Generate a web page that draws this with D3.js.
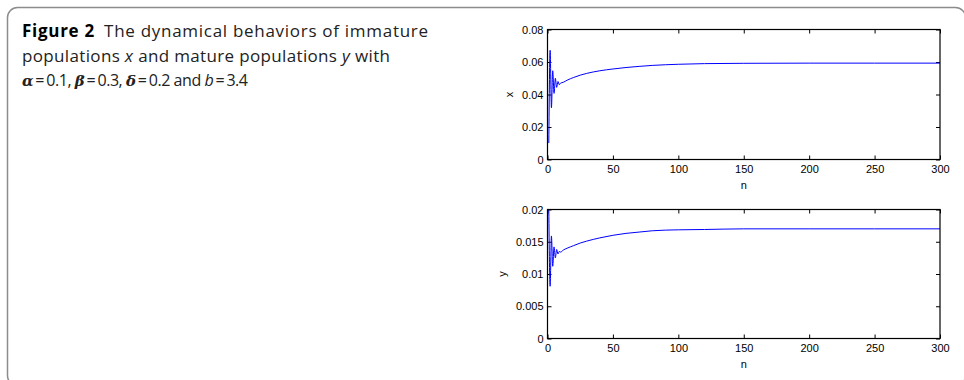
<!DOCTYPE html>
<html>
<head>
<meta charset="utf-8">
<script src="https://cdn.jsdelivr.net/npm/d3@7"></script>
<style>
  body { margin: 0; background: #fff; }
  .tick text { font-family: "Liberation Sans", Arial, sans-serif; font-size: 11px; fill: #000; }
  .cap { font-family: "Open Sans", sans-serif; font-size: 17px; fill: #222; }
</style>
</head>
<body>
<svg id="fig" width="964" height="380"></svg>
<script>
var nVals = [1, 2, 3, 4, 5, 6, 7, 8, 9, 10, 12, 15, 20, 25, 30, 40, 50, 60, 70, 80, 90, 100, 120, 150, 200, 250, 300];
// immature population x
var xVals = [0.0101, 0.0672, 0.0318, 0.0546, 0.0407, 0.0500, 0.0444, 0.0480, 0.0460, 0.0470, 0.0475, 0.0488, 0.0505, 0.0519, 0.0530, 0.0546, 0.0557, 0.0566, 0.0573, 0.0579, 0.0583, 0.0586, 0.0590, 0.0592, 0.0593, 0.0593, 0.0593];
// mature population y
var yVals = [0.0200, 0.0081, 0.0159, 0.0112, 0.0142, 0.0125, 0.0138, 0.0131, 0.0135, 0.0134, 0.0137, 0.0140, 0.0144, 0.0148, 0.0151, 0.0156, 0.0160, 0.0163, 0.0165, 0.0167, 0.0168, 0.01685, 0.0169, 0.0170, 0.0170, 0.0170, 0.0170];
var nTicks = [0, 50, 100, 150, 200, 250, 300];
var xTicks = [0, 0.02, 0.04, 0.06, 0.08];
var yTicks = [0, 0.005, 0.01, 0.015, 0.02];

var svg = d3.select("#fig");

// outer frame
svg.append("rect")
  .attr("x", 7.5).attr("y", 7.5)
  .attr("width", 958).attr("height", 378)
  .attr("rx", 10).attr("ry", 10)
  .attr("fill", "none").attr("stroke", "#8c8c8c").attr("stroke-width", 1.5);

// caption, one text per line so each can be fitted to its width
var l1 = svg.append("text").attr("class", "cap").attr("x", 22).attr("y", 37)
  .attr("textLength", 406).attr("lengthAdjust", "spacing");
l1.append("tspan").attr("font-weight", "bold").attr("fill", "#000").text("Figure 2");
l1.append("tspan").text("\u2002The dynamical behaviors of immature");
var l2 = svg.append("text").attr("class", "cap").attr("x", 22).attr("y", 61.5)
  .attr("textLength", 368).attr("lengthAdjust", "spacing");
l2.append("tspan").text("populations ");
l2.append("tspan").attr("font-style", "italic").text("x");
l2.append("tspan").text(" and mature populations ");
l2.append("tspan").attr("font-style", "italic").text("y");
l2.append("tspan").text(" with");
var l3 = svg.append("text").attr("class", "cap").attr("x", 22).attr("y", 86)
  .style("font-size", "16px")
  .attr("textLength", 226).attr("lengthAdjust", "spacing");
var greek = function(s) { l3.append("tspan").attr("font-style", "italic").attr("font-weight", "bold").attr("font-family", "DejaVu Serif").attr("font-size", 15).text(s); };
greek("\u03b1"); l3.append("tspan").text("\u2009=\u20090.1, ");
greek("\u03b2"); l3.append("tspan").text("\u2009=\u20090.3, ");
greek("\u03b4"); l3.append("tspan").text("\u2009=\u20090.2 and ");
l3.append("tspan").attr("font-style", "italic").text("b");
l3.append("tspan").text("\u2009=\u20093.4");

function panel(top, bottom, vals, ticks, label, labelX, fmt) {
  var left = 547.5, right = 940;
  var x = d3.scaleLinear().domain([0, 300]).range([left, right]);
  var y = d3.scaleLinear().domain([ticks[0], ticks[ticks.length - 1]]).range([bottom, top]);
  var g = svg.append("g");

  g.append("g").attr("transform", "translate(0," + bottom + ")")
    .call(d3.axisBottom(x).tickValues(nTicks).tickSizeInner(-4).tickSizeOuter(0).tickPadding(6))
    .call(function(a) { a.select(".domain").remove(); });
  g.append("g").attr("transform", "translate(0," + top + ")")
    .call(d3.axisTop(x).tickValues(nTicks).tickSizeInner(-4).tickSizeOuter(0).tickFormat(""))
    .call(function(a) { a.select(".domain").remove(); });
  g.append("g").attr("transform", "translate(" + left + ",0)")
    .call(d3.axisLeft(y).tickValues(ticks).tickSizeInner(-4).tickSizeOuter(0).tickPadding(4).tickFormat(fmt))
    .call(function(a) { a.select(".domain").remove(); });
  g.append("g").attr("transform", "translate(" + right + ",0)")
    .call(d3.axisRight(y).tickValues(ticks).tickSizeInner(-4).tickSizeOuter(0).tickFormat(""))
    .call(function(a) { a.select(".domain").remove(); });

  var line = d3.line()
    .x(function(d, i) { return x(nVals[i]); })
    .y(function(d) { return y(d); })
    .curve(d3.curveMonotoneX);
  g.append("path").datum(vals)
    .attr("d", line)
    .attr("fill", "none").attr("stroke", "#0000ff").attr("stroke-width", 1);

  g.append("rect")
    .attr("x", left).attr("y", top)
    .attr("width", right - left).attr("height", bottom - top)
    .attr("fill", "none").attr("stroke", "#000").attr("stroke-width", 1.2);

  g.append("text").attr("x", (left + right) / 2).attr("y", bottom + 29)
    .attr("text-anchor", "middle")
    .style("font", "11px 'Liberation Sans', Arial, sans-serif").text("n");
  g.append("text")
    .attr("transform", "translate(" + labelX + "," + (top + bottom) / 2 + ") rotate(-90)")
    .attr("text-anchor", "middle")
    .style("font", "11px 'Liberation Sans', Arial, sans-serif").text(label);
}

panel(29.5, 159.5, xVals, xTicks, "x", 513, function(d) { return d === 0 ? "0" : d3.format(".2f")(d); });
panel(209.5, 338.5, yVals, yTicks, "y", 506, function(d) { return d === 0 ? "0" : String(+d.toFixed(3)); });
</script>
</body>
</html>
